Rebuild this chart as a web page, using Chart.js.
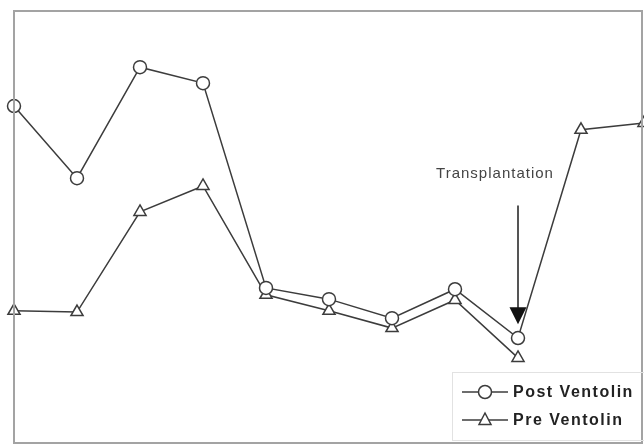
<!DOCTYPE html>
<html>
<head>
<meta charset="utf-8">
<script src="https://cdn.jsdelivr.net/npm/chart.js@4"></script>
<style>
  html, body { margin: 0; padding: 0; background: #fff; }
  #wrap { width: 644px; height: 446px; }
</style>
</head>
<body>
<div id="wrap"><canvas id="c" width="644" height="446"></canvas></div>
<script>
// visits (no labels shown on the original)
const visits = ["1", "2", "3", "4", "5", "6", "7", "8", "9", "10", "11"];
const postVentolin = [78.0, 61.3, 87.0, 83.3, 35.9, 33.3, 28.9, 35.6, 24.3, 72.5, 74.1];
const preVentolin = [30.6, 30.3, 53.5, 59.5, 34.3, 30.6, 26.6, 33.1, 19.7, null, null];
// arrow marking the transplant
const markIndex = 8;
const markLabel = "Transplantation";
const markTop = 55;
const markTip = 27.5;
const markText = 62.5;

const INK = "#3c3c3c";

// after transplant only one measurement, drawn with the triangle marker
const postStyles = postVentolin.map((v, i) => (preVentolin[i] == null ? "triangle" : "circle"));
const postRadius = postStyles.map(s => (s === "triangle" ? 7 : 6.5));

const decor = {
  id: "decor",
  afterDraw(chart) {
    const { ctx, chartArea: a, scales: { x, y } } = chart;
    ctx.save();
    // frame
    ctx.strokeStyle = "#a3a3a3";
    ctx.lineWidth = 2;
    ctx.strokeRect(a.left, a.top, a.right - 2 - a.left, a.bottom - a.top);

    // arrow + label
    const ax = x.getPixelForValue(markIndex);
    const y0 = y.getPixelForValue(markTop);
    const y1 = y.getPixelForValue(markTip);
    ctx.strokeStyle = "#555";
    ctx.lineWidth = 2;
    ctx.beginPath();
    ctx.moveTo(ax, y0);
    ctx.lineTo(ax, y1 - 14);
    ctx.stroke();
    ctx.fillStyle = "#111";
    ctx.beginPath();
    ctx.moveTo(ax - 8.5, y1 - 17);
    ctx.lineTo(ax + 8.5, y1 - 17);
    ctx.lineTo(ax, y1);
    ctx.closePath();
    ctx.fill();

    ctx.fillStyle = "#444";
    ctx.font = "15px 'Liberation Sans', Arial, sans-serif";
    ctx.letterSpacing = "1px";
    ctx.textAlign = "center";
    ctx.textBaseline = "alphabetic";
    ctx.fillText(markLabel, ax - 23, y.getPixelForValue(markText) + 5);

    // legend box
    ctx.strokeStyle = "#e2e2e2";
    ctx.lineWidth = 1;
    ctx.strokeRect(452.5, 372.5, 200, 68);
    chart.data.datasets.forEach((ds, i) => {
      const ry = 392 + i * 28;
      ctx.strokeStyle = INK;
      ctx.lineWidth = 1.5;
      ctx.beginPath();
      ctx.moveTo(462, ry);
      ctx.lineTo(508, ry);
      ctx.stroke();
      ctx.fillStyle = "#fff";
      ctx.beginPath();
      if (i === 0) {
        ctx.arc(485, ry, 6.5, 0, Math.PI * 2);
      } else {
        ctx.moveTo(485, ry - 7);
        ctx.lineTo(491, ry + 4.5);
        ctx.lineTo(479, ry + 4.5);
        ctx.closePath();
      }
      ctx.fill();
      ctx.stroke();
      ctx.fillStyle = "#222";
      ctx.font = "bold 16px 'Liberation Sans', Arial, sans-serif";
      ctx.letterSpacing = "1.5px";
      ctx.textAlign = "left";
      ctx.textBaseline = "middle";
      ctx.fillText(ds.label, 513, ry + 1);
    });
    ctx.restore();
  }
};

new Chart(document.getElementById("c"), {
  type: "line",
  data: {
    labels: visits,
    datasets: [
      {
        label: "Post Ventolin",
        data: postVentolin,
        borderColor: INK,
        borderWidth: 1.5,
        backgroundColor: "#fff",
        pointStyle: postStyles,
        pointRadius: postRadius,
        pointBorderWidth: 1.5,
        pointBorderColor: INK,
        pointBackgroundColor: "#fff",
        tension: 0,
        clip: false
      },
      {
        label: "Pre Ventolin",
        data: preVentolin,
        borderColor: INK,
        borderWidth: 1.5,
        backgroundColor: "#fff",
        pointStyle: "triangle",
        pointRadius: 7,
        pointBorderWidth: 1.5,
        pointBorderColor: INK,
        pointBackgroundColor: "#fff",
        tension: 0,
        clip: false
      }
    ]
  },
  options: {
    responsive: false,
    animation: false,
    layout: { autoPadding: false, padding: { left: 14, top: 11, right: 0, bottom: 3 } },
    plugins: { legend: { display: false }, tooltip: { enabled: false } },
    scales: {
      x: { display: false, offset: false },
      y: { display: false, min: 0, max: 100 }
    }
  },
  plugins: [decor]
});
</script>
</body>
</html>
